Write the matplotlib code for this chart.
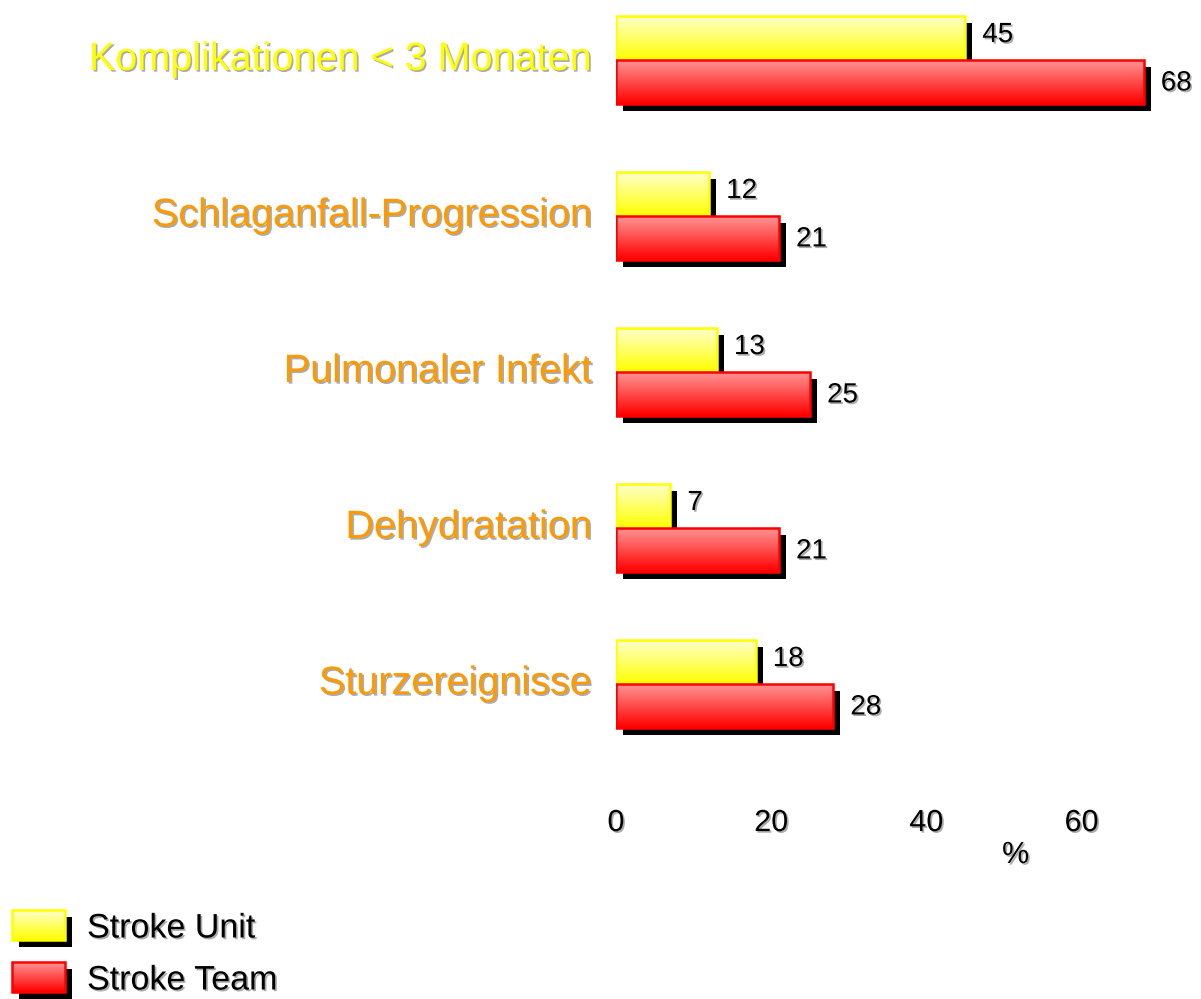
# Komplikationen: Stroke Unit vs. Stroke Team
import numpy as np
import matplotlib.pyplot as plt
import matplotlib.transforms as mtransforms
import matplotlib.patheffects as pe
from matplotlib.patches import Rectangle

plt.rcParams['font.family'] = ['Liberation Sans', 'DejaVu Sans']

# Data
categories = ["Komplikationen < 3 Monaten", "Schlaganfall-Progression",
              "Pulmonaler Infekt", "Dehydratation", "Sturzereignisse"]
stroke_unit = [45, 12, 13, 7, 18]
stroke_team = [68, 21, 25, 21, 28]
series_names = ["Stroke Unit", "Stroke Team"]
xticks = [0, 20, 40, 60]

# Styles
yellow = dict(top=(1.0, 1.0, 0.80), bottom=(1.0, 1.0, 0.0), edge="#FFFF00")
red = dict(top=(1.0, 0.58, 0.58), bottom=(1.0, 0.0, 0.0), edge="#FF0000")
text_shadow = [pe.withSimplePatchShadow(offset=(1.2, -1.2), shadow_rgbFace="#888888", alpha=0.7)]

fig = plt.figure(figsize=(12.01, 9.99), dpi=100)
W, H = 1201, 999


def gradient_bar(ax, x0, y0, w, h, style, z):
    # black drop shadow, shifted 7 px right and 7 px down
    shadow_tr = mtransforms.offset_copy(ax.transData, fig=fig, x=7, y=-7, units="dots")
    ax.add_patch(Rectangle((x0, y0), w, h, facecolor="black", edgecolor="none",
                           transform=shadow_tr, zorder=z))
    # vertical gradient fill
    t = np.linspace(0, 1, 64)[:, None]
    top = np.array(style["top"])
    bot = np.array(style["bottom"])
    grad = (top * (1 - t) + bot * t)[:, None, :]
    ax.imshow(grad, extent=(x0, x0 + w, y0 + h, y0), aspect="auto", origin="upper",
              interpolation="bilinear", zorder=z + 0.1)
    # outline
    ax.add_patch(Rectangle((x0, y0), w, h, facecolor="none", edgecolor=style["edge"],
                           linewidth=1.8, zorder=z + 0.2))


# Main axes (pixel layout: x=0 at 616 px, ~7.76 px per %)
left_px, right_px, top_px, bottom_px = 616, 1198, 0, 790
ax = fig.add_axes([left_px / W, 1 - bottom_px / H, (right_px - left_px) / W, (bottom_px - top_px) / H])

bar_h = 0.28
ypos = np.arange(len(categories))
for i in range(len(categories)):
    gradient_bar(ax, 0, ypos[i] - bar_h, stroke_unit[i], bar_h, yellow, 1 + 2 * i)
    gradient_bar(ax, 0, ypos[i], stroke_team[i], bar_h, red, 2 + 2 * i)
    ax.text(stroke_unit[i] + 2.2, ypos[i] - bar_h / 2 - 0.02, str(stroke_unit[i]),
            fontsize=20, va="center", ha="left", path_effects=text_shadow, zorder=20)
    ax.text(stroke_team[i] + 2.2, ypos[i] + bar_h / 2 + 0.01, str(stroke_team[i]),
            fontsize=20, va="center", ha="left", path_effects=text_shadow, zorder=20)

# category labels, right-aligned left of the bars
label_tr = mtransforms.offset_copy(ax.get_yaxis_transform(), fig=fig, x=-24, y=1, units="dots")
for k, name in enumerate(categories):
    ax.text(0, ypos[k], name, transform=label_tr, fontsize=28.5, ha="right", va="center",
            color="#FFFF00" if k == 0 else "#FF9900", path_effects=text_shadow)

ax.set_xlim(0, 75)
ax.set_ylim((bottom_px - 60) / 156, -60 / 156)
ax.set_xticks(xticks)
ax.set_xticklabels([str(v) for v in xticks], fontsize=22)
for lab in ax.get_xticklabels():
    lab.set_path_effects(text_shadow)
ax.set_yticks([])
ax.tick_params(axis="both", length=0)
ax.tick_params(axis="x", pad=13)
for s in ax.spines.values():
    s.set_visible(False)
ax.text(51.5, 1 - (855 - top_px) / (bottom_px - top_px), "%", transform=ax.get_xaxis_transform(),
        fontsize=22, ha="center", va="center", path_effects=text_shadow)

# Legend (axes in pixel units)
lax = fig.add_axes([0, 0, 320 / W, 110 / H])
lax.axis("off")
for j, (name, style) in enumerate(zip(series_names, [yellow, red])):
    y0 = 21 + j * 52
    gradient_bar(lax, 12, y0, 53, 30, style, 1 + j * 2)
    lax.text(87, y0 + 19, name, fontsize=24.5, va="center", ha="left", path_effects=text_shadow)
lax.set_xlim(0, 320)
lax.set_ylim(110, 0)

fig.savefig("out.png", dpi=100)
